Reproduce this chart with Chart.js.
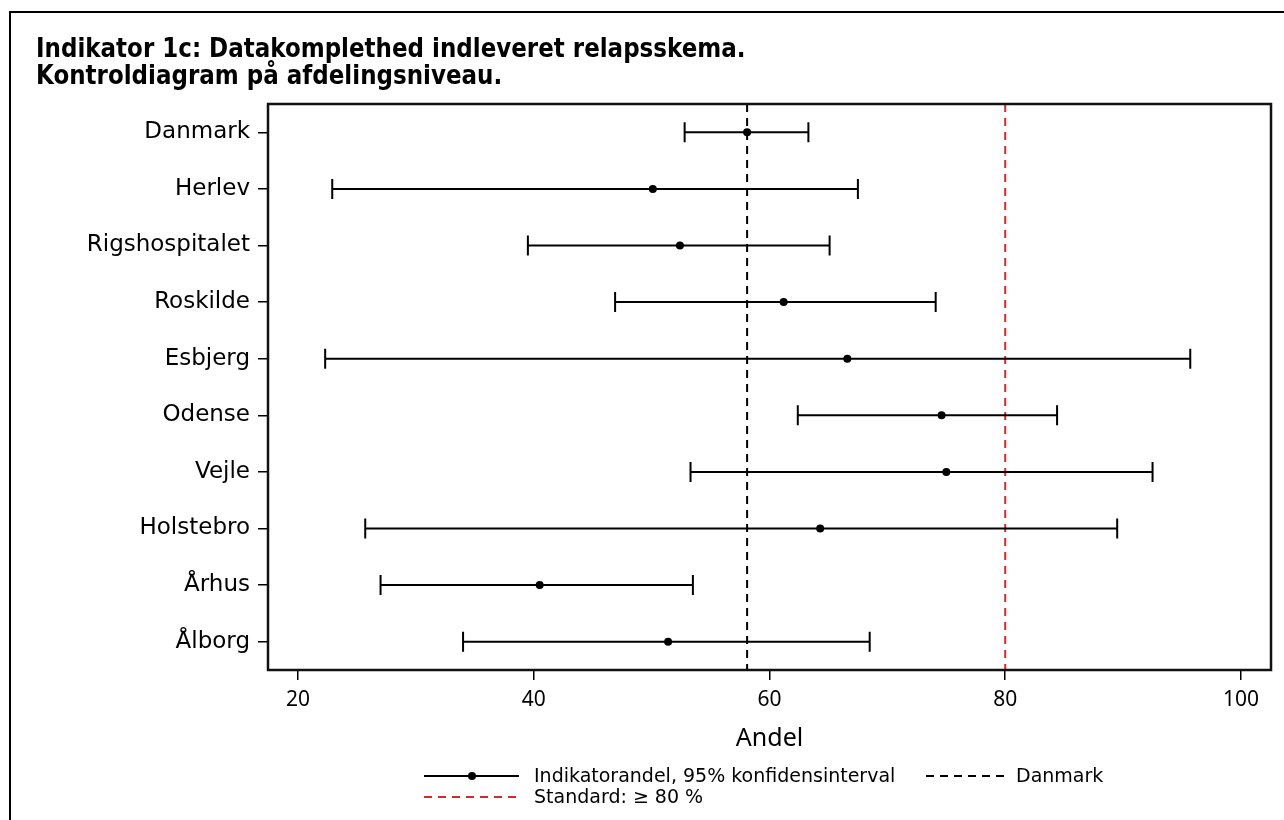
<!DOCTYPE html>
<html>
<head>
<meta charset="utf-8">
<script src="https://cdn.jsdelivr.net/npm/chart.js@4.4.0/dist/chart.umd.min.js"></script>
<style>
  html, body { margin:0; padding:0; background:#fff; overflow:hidden; }
  #frame { position:absolute; left:9px; top:11px; width:1300px; height:900px; border:2px solid #000; }
  #wrap { position:absolute; left:0; top:0; width:1284px; height:820px; }
</style>
</head>
<body>
<div id="frame"></div>
<div id="wrap"><canvas id="c" width="1284" height="820"></canvas></div>
<script>
// afdelinger, indikatorandel og 95% konfidensinterval
const sites  = ["Danmark","Herlev","Rigshospitalet","Roskilde","Esbjerg","Odense","Vejle","Holstebro","Århus","Ålborg"];
const andel  = [58.1, 50.1, 52.4, 61.2, 66.6, 74.6, 75.0, 64.3, 40.5, 51.4];
const nedre  = [52.8, 22.9, 39.5, 46.9, 22.3, 62.4, 53.3, 25.7, 27.0, 34.0];
const oevre  = [63.3, 67.5, 65.1, 74.1, 95.7, 84.4, 92.5, 89.5, 53.5, 68.5];
const xTicks = [20, 40, 60, 80, 100];
const danmarkRef = 58.1;
const standard = 80;

const LABEL_FONT = "DejaVu Sans";

// fejlstreger, referencelinjer, ramme, titel og forklaring
const extras = {
  id: "extras",
  beforeDatasetsDraw(chart) {
    const {ctx, chartArea: a, scales: {x, y}} = chart;
    ctx.save();
    // referencelinjer
    const refLine = (v, color) => {
      const px = x.getPixelForValue(v);
      ctx.strokeStyle = color; ctx.lineWidth = 2; ctx.setLineDash([8, 6]);
      ctx.beginPath(); ctx.moveTo(px, a.top); ctx.lineTo(px, a.bottom); ctx.stroke();
    };
    refLine(danmarkRef, "#000");
    refLine(standard, "#d42a2a");
    ctx.setLineDash([]);
    // konfidensintervaller
    ctx.strokeStyle = "#000"; ctx.lineWidth = 2;
    sites.forEach((s, i) => {
      const py = y.getPixelForValue(i);
      const x0 = x.getPixelForValue(nedre[i]), x1 = x.getPixelForValue(oevre[i]);
      ctx.beginPath();
      ctx.moveTo(x0, py); ctx.lineTo(x1, py);
      ctx.moveTo(x0, py - 10); ctx.lineTo(x0, py + 10);
      ctx.moveTo(x1, py - 10); ctx.lineTo(x1, py + 10);
      ctx.stroke();
    });
    ctx.restore();
  },
  afterDraw(chart) {
    const {ctx, chartArea: a} = chart;
    ctx.save();
    ctx.strokeStyle = "#111"; ctx.lineWidth = 2.5;
    ctx.strokeRect(a.left, a.top, a.right - a.left, a.bottom - a.top);

    // titel (lidt højere skrift som i originalen)
    ctx.fillStyle = "#000";
    ctx.font = "bold 23px 'DejaVu Sans'";
    ctx.textBaseline = "alphabetic";
    ctx.save();
    ctx.scale(1, 1.15);
    ctx.fillText("Indikator 1c: Datakomplethed indleveret relapsskema.", 36, 57 / 1.15);
    ctx.fillText("Kontroldiagram på afdelingsniveau.", 36, 84 / 1.15);
    ctx.restore();

    // forklaring
    ctx.font = "19px 'DejaVu Sans'";
    ctx.textBaseline = "middle";
    ctx.lineWidth = 2;
    ctx.strokeStyle = "#000";
    ctx.beginPath(); ctx.moveTo(424, 776); ctx.lineTo(519, 776); ctx.stroke();
    ctx.beginPath(); ctx.arc(472, 776, 4, 0, Math.PI * 2); ctx.fill();
    ctx.fillText("Indikatorandel, 95% konfidensinterval", 534, 777);
    ctx.setLineDash([8, 6]);
    ctx.beginPath(); ctx.moveTo(926, 776); ctx.lineTo(1006, 776); ctx.stroke();
    ctx.strokeStyle = "#d42a2a";
    ctx.beginPath(); ctx.moveTo(424, 797); ctx.lineTo(519, 797); ctx.stroke();
    ctx.setLineDash([]);
    ctx.fillText("Danmark", 1016, 777);
    ctx.fillText("Standard: ≥ 80 %", 534, 798);
    ctx.restore();
  }
};

new Chart(document.getElementById("c"), {
  type: "scatter",
  data: {
    datasets: [{
      label: "Indikatorandel",
      data: sites.map((s, i) => ({x: andel[i], y: s})),
      pointRadius: 4,
      pointHoverRadius: 4,
      backgroundColor: "#000",
      borderColor: "#000",
      borderWidth: 0
    }]
  },
  options: {
    responsive: false,
    animation: false,
    layout: { padding: { left: 0, right: 13, top: 104, bottom: 60 } },
    plugins: { legend: { display: false }, tooltip: { enabled: false }, title: { display: false } },
    scales: {
      x: {
        type: "linear",
        min: 17.45, max: 102.55,
        afterBuildTicks: s => { s.ticks = xTicks.map(v => ({value: v})); },
        afterFit: s => { s.height = 90; },
        border: { display: false },
        grid: { drawOnChartArea: false, drawTicks: true, tickLength: 10, color: "#000", lineWidth: 1.5 },
        ticks: { color: "#000", font: { family: "Noto Sans", size: 21 }, padding: 7, maxRotation: 0 },
        title: { display: true, text: "Andel", color: "#000", font: { family: "Noto Sans", size: 25 }, padding: { top: 0, bottom: 6 } }
      },
      y: {
        type: "category",
        labels: sites,
        offset: true,
        afterFit: s => { s.width = 268; },
        border: { display: false },
        grid: { drawOnChartArea: false, drawTicks: true, tickLength: 10, color: "#000", lineWidth: 1.5, offset: false },
        ticks: { color: "#000", font: { family: LABEL_FONT, size: 23 }, padding: 8 }
      }
    }
  },
  plugins: [extras]
});
</script>
</body>
</html>
